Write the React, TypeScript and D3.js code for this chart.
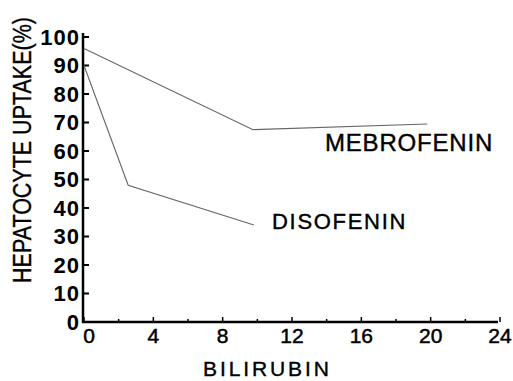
import React from "react";
import * as d3 from "d3";

const mebX = [0, 9.75, 19.8];
const mebY = [96, 67.5, 69.5];
const disX = [0, 2.55, 9.8];
const disY = [90, 48, 34];
const xTicks = [0, 4, 8, 12, 16, 20, 24];
const yTicks = [0, 10, 20, 30, 40, 50, 60, 70, 80, 90, 100];
const seriesLabels = ["MEBROFENIN", "DISOFENIN"];

export default function App() {
  const x = d3.scaleLinear().domain([0, 24]).range([84, 500]);
  const y = d3.scaleLinear().domain([0, 100]).range([322, 37]);
  const line = d3.line<[number, number]>().x(d => x(d[0])).y(d => y(d[1]));
  const meb = mebX.map((v, i) => [v, mebY[i]] as [number, number]);
  const dis = disX.map((v, i) => [v, disY[i]] as [number, number]);
  const font = "'Liberation Sans', Arial, sans-serif";
  const minorX = d3.range(0, 24.1, 2);
  return (
    <svg width={513} height={381} style={{ position: "absolute", left: 0, top: 0, background: "#fff" }}>
      <g fontFamily={font}>
        <line x1={x(0) - 1} x2={x(0) - 1} y1={y(0) + 1} y2={y(100) - 4} stroke="#000" strokeWidth={2.5} />
        <line x1={x(0) - 2} x2={x(24) - 2} y1={y(0)} y2={y(0)} stroke="#000" strokeWidth={2.5} />
        {yTicks.map(t => (
          <g key={"y" + t}>
            <line x1={x(0)} x2={x(0) + 5} y1={y(t)} y2={y(t)} stroke="#000" strokeWidth={2} />
            <text x={x(0) - 4} y={y(t)} dy="0.36em" textAnchor="end" fontSize={22} fontWeight="bold" letterSpacing={1}>{t}</text>
          </g>
        ))}
        {minorX.map(t => (
          <line key={"mx" + t} x1={x(t)} x2={x(t)} y1={y(0)} y2={y(0) - (t % 4 === 0 ? 5 : 3)} stroke="#000" strokeWidth={1.5} />
        ))}
        {xTicks.map(t => (
          <text key={"x" + t} x={x(t) + (t === 0 ? 5 : 0)} y={343} textAnchor="middle" fontSize={21} stroke="#000" strokeWidth={0.5}>{t}</text>
        ))}
        <text x={203} y={376} fontSize={21} letterSpacing={2.9} stroke="#000" strokeWidth={0.4}>BILIRUBIN</text>
        <g transform="translate(31,150) rotate(-90) scale(1,1.2)">
          <text x={0} y={0} textAnchor="middle" fontSize={21.5} stroke="#000" strokeWidth={0.3}>HEPATOCYTE UPTAKE(%)</text>
        </g>
        <path d={line(meb) || ""} fill="none" stroke="#666" strokeWidth={1.1} />
        <path d={line(dis) || ""} fill="none" stroke="#666" strokeWidth={1.1} />
        <text x={325} y={151} fontSize={24} letterSpacing={0.8} stroke="#000" strokeWidth={0.4}>{seriesLabels[0]}</text>
        <text x={272} y={229} fontSize={22} letterSpacing={1.7} stroke="#000" strokeWidth={0.4}>{seriesLabels[1]}</text>
      </g>
    </svg>
  );
}
